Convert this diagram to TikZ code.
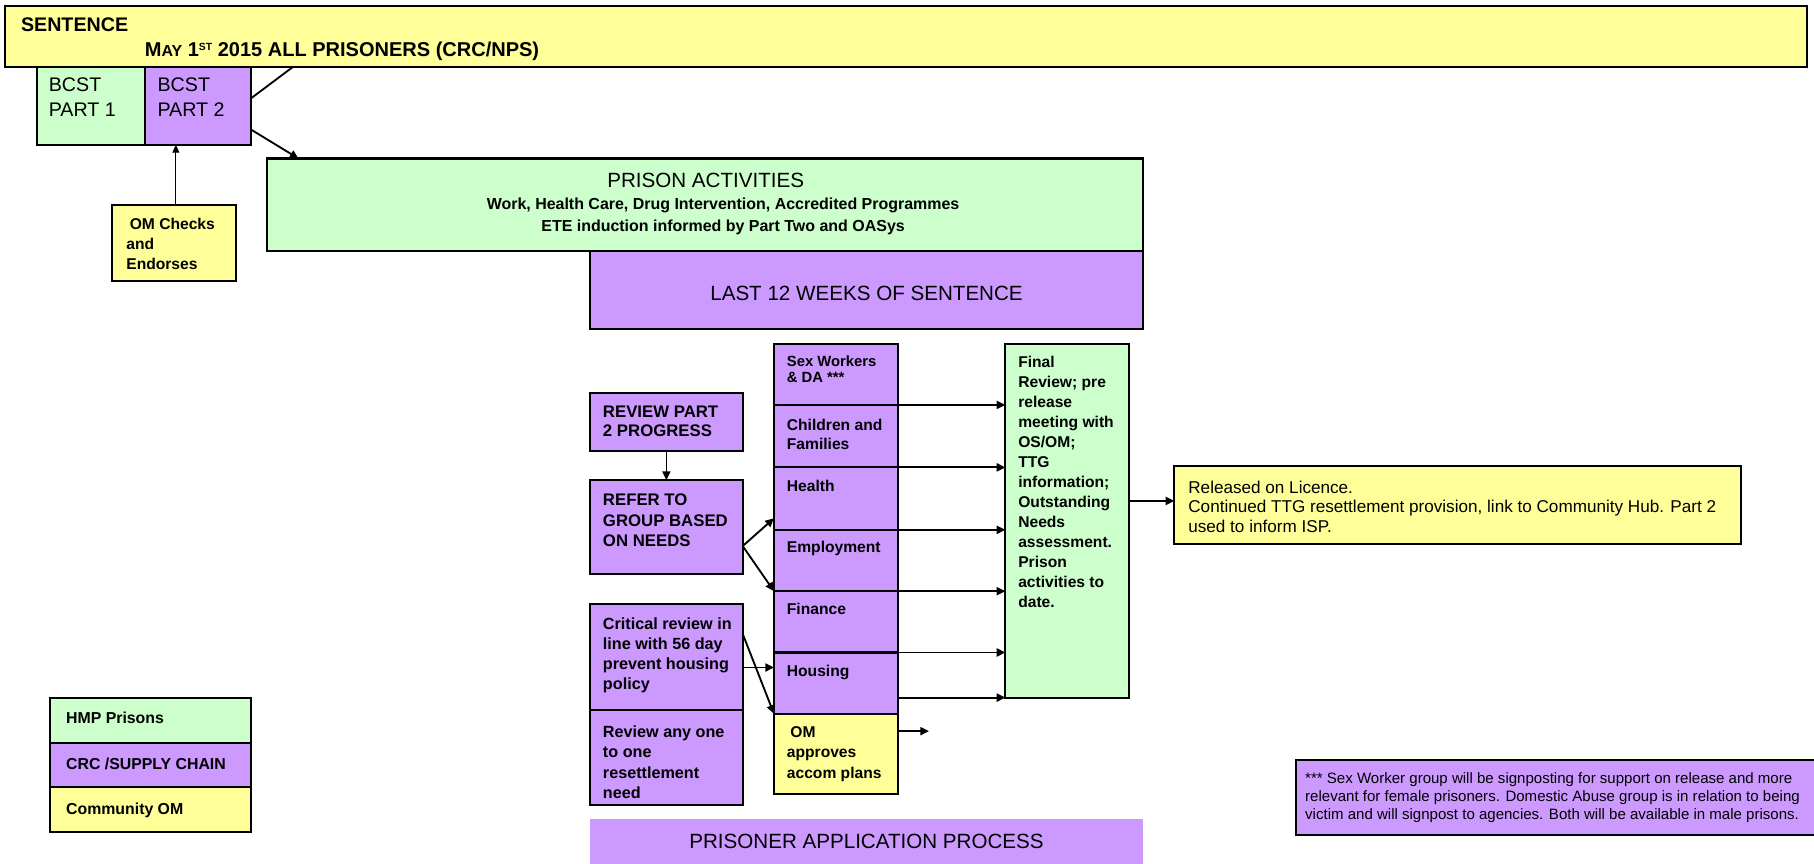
\documentclass[tikz,border=0pt]{standalone}
\usepackage{fontspec}
\setmainfont{Liberation Sans}
\usetikzlibrary{arrows.meta,calc}
\definecolor{grn}{HTML}{CCFFCC}
\definecolor{pur}{HTML}{CC99FF}
\definecolor{yel}{HTML}{FFFF99}
\newcommand\myfs[2]{\fontsize{#1}{#2}\selectfont}
\newcommand\mkbox[6]{\node[boxst,fill=#6,minimum width={#4-#2},minimum height={#5-#3}] (#1) at (#2,#3) {};}
\begin{document}
\begin{tikzpicture}[x=1pt,y=-1pt,
 boxst/.style={draw=black,line width=1.8pt,anchor=north west,inner sep=0pt,outer sep=0pt},
 txt/.style={anchor=north west,inner sep=0pt,align=left},
 arr/.style={line width=1.6pt,-{Triangle[length=7.5pt,width=7pt]}},
 thinarr/.style={line width=0.9pt,-{Triangle[length=7pt,width=6pt]}},
 plain/.style={line width=1.6pt},
]
\useasboundingbox (0,0) rectangle (1568,746);
\begin{scope}
\clip (0,0) rectangle (1568,746);
\fill[white] (0,0) rectangle (1568,746);
% boxes
\mkbox{sent}{4}{5}{1562}{58}{yel}
\mkbox{p1}{32}{58}{125}{125}{grn}
\mkbox{p2}{125}{58}{217}{125}{pur}
\mkbox{omc}{97}{177}{204}{243}{yel}
\mkbox{pa}{231}{137}{988}{217}{grn}
\mkbox{last}{510}{217}{988}{284}{pur}
\mkbox{rev}{510}{340}{642}{390}{pur}
\mkbox{ref}{510}{415}{642}{496}{pur}
\mkbox{crit}{510}{522}{642}{614}{pur}
\mkbox{any}{510}{614}{642}{696}{pur}
\mkbox{sw}{669}{297}{776}{350}{pur}
\mkbox{cf}{669}{350}{776}{404}{pur}
\mkbox{hea}{669}{404}{776}{458}{pur}
\mkbox{emp}{669}{458}{776}{511}{pur}
\mkbox{fin}{669}{511}{776}{564}{pur}
\mkbox{hou}{669}{564}{776}{617}{pur}
\mkbox{oma}{669}{617}{776}{686}{yel}
\mkbox{frev}{869}{297}{976}{603}{grn}
\mkbox{rel}{1015}{403}{1505}{470}{yel}
\mkbox{lg1}{43}{603}{217}{642}{grn}
\mkbox{lg2}{43}{642}{217}{680}{pur}
\mkbox{lg3}{43}{680}{217}{719}{yel}
\mkbox{note}{1120}{657}{1600}{722}{pur}
\node[anchor=north west,inner sep=0pt,outer sep=0pt,fill=pur,minimum width=478,minimum height=52] (pap) at (510,708) {};
% texts
\node[txt,font=\bfseries\myfs{17}{20}] (tsent) at (18,15) {SENTENCE};
\node[txt,font=\bfseries\myfs{17.3}{20}] (tmay) at (125,36) {M{\myfs{13.8}{16}AY} 1\raisebox{5pt}{\myfs{9}{10}ST} 2015 ALL PRISONERS (CRC/NPS)};
\node[txt,font=\myfs{17}{22}] (tp1) at (42,67) {BCST\\PART 1};
\node[txt,font=\myfs{17}{22}] (tp2) at (136,67) {BCST\\PART 2};
\node[txt,font=\bfseries\myfs{13.5}{17.5}] (tomc) at (109,188) {\hspace*{3pt}OM Checks\\and\\Endorses};
\node[inner sep=0pt,font=\myfs{17.8}{20}] (tpa) at (610,156) {PRISON ACTIVITIES};
\node[inner sep=0pt,align=center,font=\bfseries\myfs{13.8}{18.5}] (tpa2) at (625,187) {Work, Health Care, Drug Intervention, Accredited Programmes\\ETE induction informed by Part Two and OASys};
\node[inner sep=0pt,font=\myfs{17.8}{20}] (tlast) at (749,254) {LAST 12 WEEKS OF SENTENCE};
\node[txt,font=\bfseries\myfs{14.5}{16.5}] (trev) at (521,351) {REVIEW PART\\2 PROGRESS};
\node[txt,font=\bfseries\myfs{14.5}{17.5}] (tref) at (521,427) {REFER TO\\GROUP BASED\\ON NEEDS};
\node[txt,font=\bfseries\myfs{14}{17.3}] (tcrit) at (521,534) {Critical review in\\line with 56 day\\prevent housing\\policy};
\node[txt,font=\bfseries\myfs{14}{17.6}] (tany) at (521,627) {Review any one\\to one\\resettlement\\need};
\node[txt,font=\bfseries\myfs{12.8}{13.5}] (tsw) at (680,307.5) {Sex Workers\\\& DA ***};
\node[txt,font=\bfseries\myfs{13.5}{16.5}] (tcf) at (680,362) {Children and\\Families};
\node[txt,font=\bfseries\myfs{13.5}{16.5}] (thea) at (680,415) {Health};
\node[txt,font=\bfseries\myfs{13.5}{16.5}] (temp) at (680,468) {Employment};
\node[txt,font=\bfseries\myfs{13.5}{16.5}] (tfin) at (680,521) {Finance};
\node[txt,font=\bfseries\myfs{13.5}{16.5}] (thou) at (680,575) {Housing};
\node[txt,font=\bfseries\myfs{13.5}{17.5}] (toma) at (680,628) {\hspace*{3pt}OM\\approves\\accom plans};
\node[txt,font=\bfseries\myfs{13.5}{17.25}] (tfrev) at (880,308) {Final\\Review; pre\\release\\meeting with\\OS/OM;\\TTG\\information;\\Outstanding\\Needs\\assessment.\\Prison\\activities to\\date.};
\node[txt,font=\myfs{14.8}{17}] (trel) at (1027,415.5) {Released on Licence.\\Continued TTG resettlement provision, link to Community Hub. Part 2\\used to inform ISP.};
\node[txt,font=\myfs{13}{15.5}] (tnote) at (1128,667.5) {*** Sex Worker group will be signposting for support on release and more\\relevant for female prisoners. Domestic Abuse group is in relation to being\\victim and will signpost to agencies. Both will be available in male prisons.};
\node[txt,font=\bfseries\myfs{13.7}{15}] (tlg1) at (57,615) {HMP Prisons};
\node[txt,font=\bfseries\myfs{13.7}{15}] (tlg2) at (57,655) {CRC /SUPPLY CHAIN};
\node[txt,font=\bfseries\myfs{13.7}{15}] (tlg3) at (57,694) {Community OM};
\node[inner sep=0pt,font=\myfs{17.8}{20}] (tpap) at (749,727) {PRISONER APPLICATION PROCESS};
% connectors
\draw[plain] (p2.east |- 0,85) -- (253,0 |- sent.south);
\draw[arr] (p2.east |- 0,112) -- (258,0 |- pa.north);
\draw[thinarr] (152,0 |- omc.north) -- (152,0 |- p2.south);
\draw[arr,line width=1.2pt] (rev.south) -- (ref.north);
\draw[arr] (ref.east |- 0,472) -- (hea.west |- 0,448);
\draw[arr] (ref.east |- 0,472) -- (emp.south west);
\draw[arr] (crit.east |- 0,577) -- (hou.west |- 0,577);
\draw[arr] (crit.east |- 0,548) -- (hou.south west);
\foreach \n in {sw,cf,hea,emp,fin} \draw[arr] (\n.south east) -- (frev.west |- \n.south east);
\draw[arr] (hou.east |- 0,603) -- (frev.west |- 0,603);
\coordinate (omaend) at (803,632);
\draw[arr] (oma.east |- omaend) -- (omaend);
\draw[arr] (frev.east |- 0,433) -- (rel.west |- 0,433);
\end{scope}
\end{tikzpicture}
\end{document}
